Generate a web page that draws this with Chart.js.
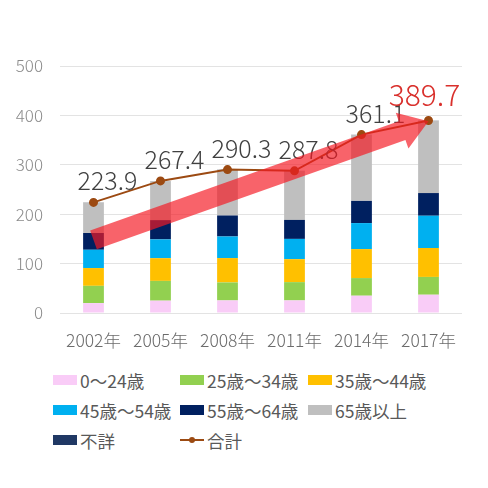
<!DOCTYPE html>
<html>
<head>
<meta charset="utf-8">
<script src="https://cdn.jsdelivr.net/npm/chart.js@4"></script>
<style>
  html, body { margin: 0; padding: 0; background: #fff; }
  #wrap { position: relative; width: 488px; height: 488px; font-family: "Noto Sans CJK JP", "Noto Sans", sans-serif; }
  #chart-box { position: absolute; left: 0; top: 0; width: 488px; height: 360px; }
  #legend { position: absolute; left: 0; top: 368px; width: 488px; }
  .item { position: absolute; display: flex; align-items: center; font-size: 17.5px; color: #595959; height: 24px; }
  .box { width: 24px; height: 10px; margin-right: 3px; }
  .ln { width: 24px; height: 10px; margin-right: 3px; position: relative; }
  .ln::before { content: ''; position: absolute; left: 0; right: 0; top: 4px; height: 2px; background: #9c4a12; }
  .ln::after { content: ''; position: absolute; left: 9px; top: 2px; width: 6px; height: 6px; border-radius: 50%; background: #9c4a12; }
</style>
</head>
<body>
<div id="wrap">
  <div id="chart-box"><canvas id="grafico"></canvas></div>
  <div id="legend"></div>
</div>
<script>
// dados
const anos = ['2002年', '2005年', '2008年', '2011年', '2014年', '2017年'];
const faixa0a24 = [20, 25, 25.5, 25.5, 35, 37];
const faixa25a34 = [35, 40, 36.4, 37, 35.7, 36];
const faixa35a44 = [36, 46, 49.3, 46.5, 58.7, 58.6];
const faixa45a54 = [37, 38, 43.7, 41, 52.6, 65.3];
const faixa55a64 = [34, 39, 42.5, 38.4, 45, 45.9];
const faixa65mais = [62, 79, 93, 99.2, 134, 147.1];
const naoInformado = [0.2, 0.2, 0.2, 0.2, 0.2, 0.2];
const totais = [223.9, 267.4, 290.3, 287.8, 361.1, 389.7];
const ticksY = [0, 100, 200, 300, 400, 500];
// seta de tendência (valores no eixo y)
const setaInicio = 148;
const setaFim = 388;

const FONTE = '"Noto Sans CJK JP", "Noto Sans", sans-serif';

function barra(label, data, cor) {
    return { type: 'bar', label, data, backgroundColor: cor, stack: 'a', order: 2,
             barPercentage: 0.62, categoryPercentage: 0.5 };
}

const datasets = [
    barra('0〜24歳', faixa0a24, '#f9ccf7'),
    barra('25歳〜34歳', faixa25a34, '#92d050'),
    barra('35歳〜44歳', faixa35a44, '#ffc000'),
    barra('45歳〜54歳', faixa45a54, '#00b0f0'),
    barra('55歳〜64歳', faixa55a64, '#002060'),
    barra('65歳以上', faixa65mais, '#bfbfbf'),
    barra('不詳', naoInformado, '#203864'),
    { type: 'line', label: '合計', data: totais, borderColor: '#9c4a12', backgroundColor: '#9c4a12',
      borderWidth: 2, pointRadius: 3.5, pointHoverRadius: 3.5, stack: 'total', order: 1, tension: 0 }
];

// rótulos do total
const rotulosPlugin = {
    id: 'rotulos',
    afterDatasetsDraw(chart) {
        const ctx = chart.ctx;
        const meta = chart.getDatasetMeta(7);
        ctx.save();
        ctx.textAlign = 'center';
        ctx.textBaseline = 'alphabetic';
        meta.data.forEach((pt, i) => {
            const ultimo = i === totais.length - 1;
            ctx.font = (ultimo ? '300 30px ' : '300 25px ') + FONTE;
            ctx.fillStyle = ultimo ? '#d9302c' : '#404040';
            ctx.fillText(totais[i].toFixed(1), pt.x + (ultimo ? -4 : 14), pt.y - (ultimo ? 14 : 12));
        });
        ctx.restore();
    },
    afterDraw(chart) {
        const ctx = chart.ctx;
        const x = chart.scales.x, y = chart.scales.y;
        const x0 = x.getPixelForValue(0), y0 = y.getPixelForValue(setaInicio);
        const x1 = x.getPixelForValue(5), y1 = y.getPixelForValue(setaFim);
        const ang = Math.atan2(y1 - y0, x1 - x0);
        const len = Math.hypot(x1 - x0, y1 - y0);
        const meia = 10, cabeca = 19, cabLen = 28;
        ctx.save();
        ctx.translate(x0, y0);
        ctx.rotate(ang);
        ctx.fillStyle = 'rgba(245, 25, 35, 0.68)';
        ctx.beginPath();
        ctx.moveTo(0, -meia);
        ctx.lineTo(len - cabLen, -meia);
        ctx.lineTo(len - cabLen, -cabeca);
        ctx.lineTo(len, 0);
        ctx.lineTo(len - cabLen, cabeca);
        ctx.lineTo(len - cabLen, meia);
        ctx.lineTo(0, meia);
        ctx.closePath();
        ctx.fill();
        ctx.restore();
    }
};

const grafico = new Chart(document.getElementById('grafico'), {
    data: { labels: anos, datasets },
    options: {
        responsive: true,
        maintainAspectRatio: false,
        animation: false,
        layout: { padding: { top: 66, right: 26, left: 10, bottom: 0 } },
        plugins: { legend: { display: false }, tooltip: { enabled: false } },
        scales: {
            x: {
                stacked: true,
                grid: { display: false },
                border: { display: false },
                ticks: { color: '#6b6b6b', font: { family: FONTE, size: 17.5, weight: 300 }, padding: 9 }
            },
            y: {
                stacked: true,
                min: 0, max: 500,
                afterBuildTicks(s) { s.ticks = ticksY.map(v => ({ value: v })); },
                afterFit(s) { s.width = 50; },
                grid: { color: '#e3e3e3', lineWidth: 1, drawTicks: false },
                border: { display: false },
                ticks: { color: '#8a8a8a', font: { family: FONTE, size: 17, weight: 300 }, padding: 17 }
            }
        }
    },
    plugins: [rotulosPlugin]
});

// legenda em HTML, três colunas
const legenda = document.getElementById('legend');
const colunas = [53, 180, 308];
datasets.forEach((ds, i) => {
    const item = document.createElement('div');
    item.className = 'item';
    item.style.left = colunas[i % 3] + 'px';
    item.style.top = (Math.floor(i / 3) * 30) + 'px';
    const marca = document.createElement('span');
    if (ds.type === 'line') {
        marca.className = 'ln';
        item.style.left = colunas[1] + 'px';
    } else {
        marca.className = 'box';
        marca.style.background = ds.backgroundColor;
    }
    item.appendChild(marca);
    item.appendChild(document.createTextNode(ds.label));
    legenda.appendChild(item);
});
</script>
</body>
</html>
